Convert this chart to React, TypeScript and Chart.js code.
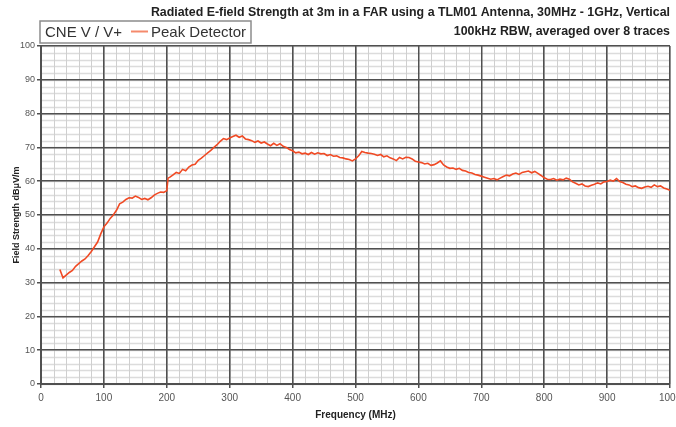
import React, { useEffect, useRef } from "react";
import { Chart, registerables } from "chart.js";

Chart.register(...registerables);

const titleLines = [
  "Radiated E-field Strength at 3m in a FAR using a TLM01 Antenna, 30MHz - 1GHz, Vertical",
  "100kHz RBW, averaged over 8 traces",
];
const legendPrefix = "CNE V / V+";
const seriesName = "Peak Detector";
const xTitle = "Frequency (MHz)";
const yTitle = "Field Strength dBμV/m";

const freqs = [
  30, 35, 40, 45, 50, 55, 60, 65, 70, 75, 80, 85, 90, 95, 100, 105, 110, 115, 120, 125,
  130, 135, 140, 145, 150, 155, 160, 165, 170, 175, 180, 185, 190, 195, 200, 202, 205, 210, 215, 220,
  225, 230, 235, 240, 245, 250, 255, 260, 265, 270, 275, 280, 285, 290, 295, 300, 305, 310, 315, 320,
  325, 330, 335, 340, 345, 350, 355, 360, 365, 370, 375, 380, 385, 390, 395, 400, 405, 410, 415, 420,
  425, 430, 435, 440, 445, 450, 455, 460, 465, 470, 475, 480, 485, 490, 495, 500, 505, 510, 515, 520,
  525, 530, 535, 540, 545, 550, 555, 560, 565, 570, 575, 580, 585, 590, 595, 600, 605, 610, 615, 620,
  625, 630, 635, 640, 645, 650, 655, 660, 665, 670, 675, 680, 685, 690, 695, 700, 705, 710, 715, 720,
  725, 730, 735, 740, 745, 750, 755, 760, 765, 770, 775, 780, 785, 790, 795, 800, 805, 810, 815, 820,
  825, 830, 835, 840, 845, 850, 855, 860, 865, 870, 875, 880, 885, 890, 895, 900, 905, 910, 915, 920,
  925, 930, 935, 940, 945, 950, 955, 960, 965, 970, 975, 980, 985, 990, 995, 1000,
];

const peakDetector = [
  33.9, 31.4, 32.2, 33.0, 33.6, 34.8, 35.6, 36.4, 37.0, 38.0, 39.2, 40.6, 42.0, 44.4, 46.5, 47.6, 49.0, 50.0, 51.4, 53.3,
  53.8, 54.6, 55.1, 55.0, 55.6, 55.2, 54.6, 54.9, 54.5, 55.1, 55.9, 56.4, 56.8, 56.7, 57.2, 60.9, 61.2, 61.9, 62.6, 62.3,
  63.5, 63.1, 64.2, 64.8, 65.0, 66.2, 66.8, 67.6, 68.4, 69.1, 70.0, 70.8, 71.8, 72.6, 72.3, 72.8, 73.2, 73.6, 73.0, 73.4,
  72.5, 72.3, 72.0, 71.5, 71.9, 71.3, 71.6, 71.0, 70.5, 71.2, 70.6, 71.1, 70.3, 70.0, 69.4, 69.0, 68.4, 68.6, 68.1, 68.3,
  67.9, 68.5, 68.0, 68.4, 68.1, 68.2, 67.6, 67.9, 67.4, 67.5, 67.0, 66.9, 66.6, 66.4, 66.0, 66.6, 67.5, 68.8, 68.5, 68.3,
  68.2, 68.0, 67.6, 67.9, 67.2, 67.5, 66.9, 66.6, 66.1, 67.0, 66.6, 67.1, 67.0, 66.6, 65.9, 65.7, 65.5, 65.1, 65.3, 64.7,
  64.9, 65.4, 66.0, 64.8, 64.2, 63.8, 63.9, 63.5, 63.8, 63.2, 63.0, 62.6, 62.4, 62.0, 61.8, 61.5, 61.2, 60.9, 60.6, 60.8,
  60.4, 60.9, 61.4, 61.8, 61.6, 62.1, 62.4, 62.0, 62.6, 62.8, 63.0, 62.5, 62.9, 62.3, 61.7, 61.0, 60.6, 60.5, 60.8, 60.3,
  60.6, 60.4, 60.9, 60.6, 59.8, 59.4, 58.9, 59.2, 58.6, 58.4, 58.8, 59.1, 59.5, 59.2, 59.8, 59.9, 60.3, 60.0, 60.8, 59.9,
  59.6, 59.1, 58.9, 58.4, 58.6, 58.1, 57.9, 58.3, 58.5, 58.2, 58.9, 58.4, 58.6, 58.0, 57.7, 57.3,
];

const xMin = 0;
const xMax = 1000;
const xMajorStep = 100;
const xMinorStep = 20;
const yMin = 0;
const yMax = 100;
const yMajorStep = 10;
const yMinorStep = 2;

const FONT = "'Liberation Sans', Arial, sans-serif";

const minorGridPlugin = {
  id: "minorGrid",
  beforeDraw(chart: any) {
    const { ctx, chartArea, scales } = chart;
    const xs = scales.x;
    const ys = scales.y;
    ctx.save();
    ctx.fillStyle = "#ffffff";
    ctx.fillRect(0, 0, chart.width, chart.height);
    ctx.strokeStyle = "#dcdcdc";
    ctx.lineWidth = 1.5;
    for (let v = yMin; v <= yMax; v += yMinorStep) {
      const y = Math.round(ys.getPixelForValue(v)) + 0.5;
      ctx.beginPath();
      ctx.moveTo(chartArea.left, y);
      ctx.lineTo(chartArea.right, y);
      ctx.stroke();
    }
    ctx.strokeStyle = "#cfcfcf";
    ctx.lineWidth = 1;
    for (let f = xMin; f <= xMax; f += xMinorStep) {
      const x = Math.round(xs.getPixelForValue(f)) + 0.5;
      ctx.beginPath();
      ctx.moveTo(x, chartArea.top);
      ctx.lineTo(x, chartArea.bottom);
      ctx.stroke();
    }
    ctx.restore();
  },
};

const headerPlugin = {
  id: "header",
  afterDraw(chart: any) {
    const { ctx } = chart;
    ctx.save();
    // Title (right aligned)
    ctx.fillStyle = "#222";
    ctx.font = `bold 12.4px ${FONT}`;
    ctx.textAlign = "right";
    ctx.textBaseline = "middle";
    ctx.fillText(titleLines[0], 670, 13);
    ctx.fillText(titleLines[1], 670, 32);
    // Legend box
    const bx = 40, by = 21, bw = 211, bh = 22;
    ctx.fillStyle = "#ffffff";
    ctx.fillRect(bx, by, bw, bh);
    ctx.strokeStyle = "#8c8c8c";
    ctx.lineWidth = 1.5;
    ctx.strokeRect(bx, by, bw, bh);
    ctx.fillStyle = "#333";
    ctx.font = `15px ${FONT}`;
    ctx.textAlign = "left";
    ctx.fillText(legendPrefix, 45, 32.5);
    ctx.strokeStyle = "#f58a6c";
    ctx.lineWidth = 2;
    ctx.beginPath();
    ctx.moveTo(131, 31.5);
    ctx.lineTo(148, 31.5);
    ctx.stroke();
    ctx.fillText(seriesName, 151, 32.5);
    ctx.restore();
  },
};

export default function App() {
  const ref = useRef<HTMLCanvasElement>(null);
  useEffect(() => {
    if (!ref.current) return;
    const chart = new Chart(ref.current, {
      type: "line",
      data: {
        datasets: [
          {
            label: seriesName,
            data: freqs.map((f, i) => ({ x: f, y: peakDetector[i] })),
            borderColor: "#f04a24",
            borderWidth: 1.6,
            pointRadius: 0,
            tension: 0,
          },
        ],
      },
      options: {
        responsive: false,
        animation: false,
        devicePixelRatio: 1,
        layout: { padding: { left: 0, right: 6, top: 46, bottom: 0 } },
        plugins: {
          legend: { display: false },
          title: { display: false },
          tooltip: { enabled: false },
        },
        scales: {
          x: {
            type: "linear",
            min: xMin,
            max: xMax,
            ticks: {
              stepSize: xMajorStep,
              color: "#555",
              font: { family: FONT, size: 10 },
              padding: 4,
              maxRotation: 0,
              callback: (v: any) => String(v),
            },
            grid: { color: "#505050", lineWidth: 1.5, tickLength: 4, tickColor: "#505050" },
            border: { color: "#505050", width: 2 },
            title: {
              display: true,
              text: xTitle,
              color: "#222",
              font: { family: FONT, size: 10, weight: "bold" },
              padding: { top: 2, bottom: 6 },
            },
            afterFit(scale: any) {
              scale.height = 43;
              scale.paddingLeft = 0;
              scale.paddingRight = 0;
            },
          },
          y: {
            type: "linear",
            min: yMin,
            max: yMax,
            ticks: {
              stepSize: yMajorStep,
              color: "#555",
              font: { family: FONT, size: 9 },
              padding: 2,
            },
            grid: { color: "#505050", lineWidth: 1.5, tickLength: 4, tickColor: "#505050" },
            border: { color: "#505050", width: 2 },
            title: {
              display: true,
              text: yTitle,
              color: "#222",
              font: { family: FONT, size: 9, weight: "bold" },
              padding: { top: 11, bottom: 2 },
            },
            afterFit(scale: any) {
              scale.width = 41;
              scale.paddingTop = 0;
              scale.paddingBottom = 0;
            },
          },
        },
      },
      plugins: [minorGridPlugin, headerPlugin],
    });
    return () => chart.destroy();
  }, []);
  return (
    <div style={{ position: "fixed", left: 0, top: 0, width: 676, height: 427, background: "#fff" }}>
      <canvas ref={ref} width={676} height={427} style={{ width: 676, height: 427 }} />
    </div>
  );
}
